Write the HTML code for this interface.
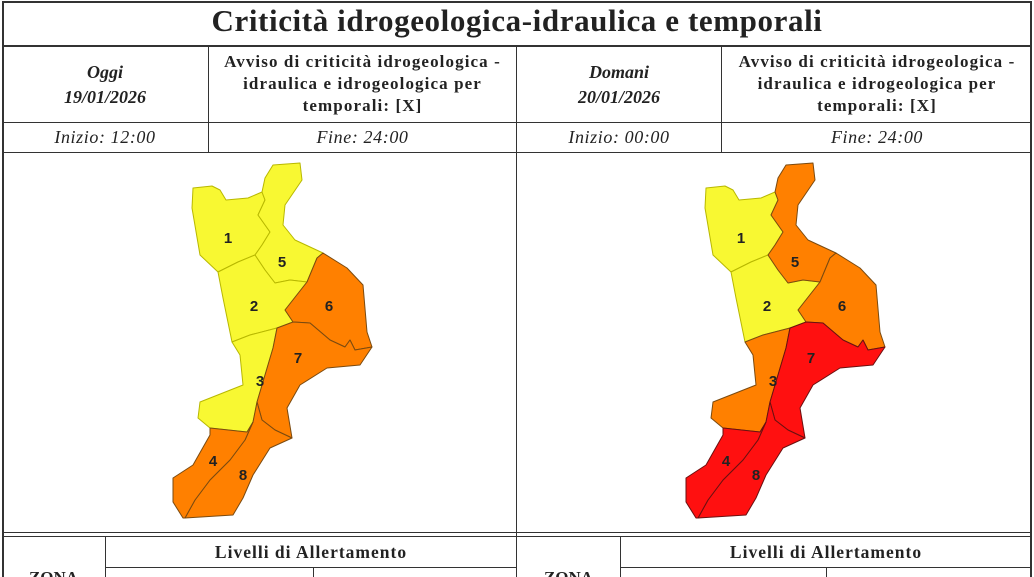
<!DOCTYPE html><html style="overflow:hidden;width:1034px;height:577px"><head><meta charset="utf-8"><style>
body{margin:0;width:1034px;height:577px;overflow:hidden;background:#fff;font-family:"Liberation Serif",serif;position:relative}
.t{position:absolute;text-align:center;color:#222}
</style></head><body>
<div style="position:absolute;left:2px;top:1px;width:1030px;height:600px;border:2px solid #333;border-bottom:none;box-sizing:border-box;max-height:576px"></div>
<div class="t" style="left:2px;top:3px;width:1030px;font-size:31px;font-weight:bold;letter-spacing:0.6px">Criticità idrogeologica-idraulica e temporali</div>
<div style="position:absolute;left:2px;top:45px;width:1030px;border-top:2px solid #333"></div>
<div style="position:absolute;left:2px;top:122px;width:1030px;border-top:1.5px solid #333"></div>
<div style="position:absolute;left:2px;top:152px;width:1030px;border-top:1.5px solid #333"></div>
<div style="position:absolute;left:208px;top:46px;height:107px;border-left:1.5px solid #333"></div>
<div style="position:absolute;left:516px;top:46px;height:490px;border-left:1.5px solid #333"></div>
<div style="position:absolute;left:721px;top:46px;height:107px;border-left:1.5px solid #333"></div>
<div class="t" style="left:2px;top:60px;width:206px;font-size:18px;font-style:italic;font-weight:bold;line-height:25px">Oggi<br>19/01/2026</div>
<div class="t" style="left:209px;top:51px;width:307px;font-size:17px;font-weight:bold;line-height:22px;letter-spacing:1.1px">Avviso di criticità idrogeologica -<br>idraulica e idrogeologica per<br>temporali: [X]</div>
<div class="t" style="left:517px;top:60px;width:204px;font-size:18px;font-style:italic;font-weight:bold;line-height:25px">Domani<br>20/01/2026</div>
<div class="t" style="left:722px;top:51px;width:310px;font-size:17px;font-weight:bold;line-height:22px;letter-spacing:1.1px">Avviso di criticità idrogeologica -<br>idraulica e idrogeologica per<br>temporali: [X]</div>
<div class="t" style="left:2px;top:127px;width:206px;font-size:18px;font-style:italic;letter-spacing:0.6px">Inizio: 12:00</div>
<div class="t" style="left:209px;top:127px;width:307px;font-size:18px;font-style:italic;letter-spacing:0.6px">Fine: 24:00</div>
<div class="t" style="left:517px;top:127px;width:204px;font-size:18px;font-style:italic;letter-spacing:0.6px">Inizio: 00:00</div>
<div class="t" style="left:722px;top:127px;width:310px;font-size:18px;font-style:italic;letter-spacing:0.6px">Fine: 24:00</div>
<div style="position:absolute;left:2px;top:532px;width:1030px;height:3px;border-top:1.5px solid #333;border-bottom:1.5px solid #333"></div>
<div style="position:absolute;left:516px;top:536px;height:45px;border-left:1.5px solid #333"></div>
<div style="position:absolute;left:105px;top:537px;height:40px;border-left:1.5px solid #333"></div>
<div style="position:absolute;left:620px;top:537px;height:40px;border-left:1.5px solid #333"></div>
<div style="position:absolute;left:105px;top:567px;width:412px;border-top:1.5px solid #333"></div>
<div style="position:absolute;left:620px;top:567px;width:412px;border-top:1.5px solid #333"></div>
<div style="position:absolute;left:313px;top:567px;height:12px;border-left:1.5px solid #333"></div>
<div style="position:absolute;left:826px;top:567px;height:12px;border-left:1.5px solid #333"></div>
<div class="t" style="left:106px;top:542px;width:410px;font-size:17.5px;font-weight:bold;letter-spacing:1px">Livelli di Allertamento</div>
<div class="t" style="left:621px;top:542px;width:410px;font-size:17.5px;font-weight:bold;letter-spacing:1px">Livelli di Allertamento</div>
<div class="t" style="left:2px;top:568px;width:103px;font-size:17px;font-weight:bold">ZONA</div>
<div class="t" style="left:517px;top:568px;width:103px;font-size:17px;font-weight:bold">ZONA</div>
<svg width="1034" height="577" style="position:absolute;left:0;top:0">
<defs>
<polygon id="r1" points="193,188 212,186 220,190 226,200 248,198 262,192 265,200 258,215 270,232 262,245 255,255 238,262 218,272 200,255 192,208"/>
<polygon id="r5" points="262,192 265,178 273,165 300,163 302,180 285,205 283,225 295,240 323,253 317,258 307,282 290,280 275,283 265,270 255,255 262,245 270,232 258,215 265,200"/>
<polygon id="r2" points="218,272 238,262 255,255 265,270 275,283 290,280 307,282 285,310 293,322 277,328 250,335 232,342 223,298"/>
<polygon id="r3" points="232,342 250,335 277,328 273,348 257,402 253,422 247,432 210,428 198,418 200,402 243,385 240,355"/>
<polygon id="r6" points="323,253 347,268 363,285 367,332 372,347 355,350 350,340 345,347 330,340 310,323 293,322 285,310 307,282 317,258"/>
<polygon id="r7" points="293,322 310,323 330,340 345,347 350,340 355,350 372,347 360,365 327,368 300,385 287,408 292,438 275,430 262,420 257,402 273,348 277,328"/>
<polygon id="r8" points="257,402 262,420 275,430 292,438 270,448 253,475 243,498 233,515 185,518 195,500 210,480 230,460 245,440 253,422"/>
<polygon id="r4" points="253,422 245,440 230,460 210,480 195,500 185,518 183,518 173,502 173,478 193,465 210,435 210,428 247,432"/>
</defs>
<g stroke-width="1" stroke-linejoin="round">
<use href="#r1" fill="#f8f832" stroke="#b8b800"/><use href="#r5" fill="#f8f832" stroke="#b8b800"/>
<use href="#r2" fill="#f8f832" stroke="#b8b800"/><use href="#r3" fill="#f8f832" stroke="#b8b800"/>
<use href="#r6" fill="#ff8000" stroke="#7a4a10"/><use href="#r7" fill="#ff8000" stroke="#7a4a10"/>
<use href="#r8" fill="#ff8000" stroke="#7a4a10"/><use href="#r4" fill="#ff8000" stroke="#7a4a10"/>
</g>
<g transform="translate(513,0)" stroke-width="1" stroke-linejoin="round">
<use href="#r1" fill="#f8f832" stroke="#b8b800"/><use href="#r2" fill="#f8f832" stroke="#b8b800"/>
<use href="#r5" fill="#ff8000" stroke="#7a4a10"/><use href="#r6" fill="#ff8000" stroke="#7a4a10"/>
<use href="#r3" fill="#ff8000" stroke="#7a4a10"/>
<use href="#r7" fill="#ff1010" stroke="#6a1010"/><use href="#r8" fill="#ff1010" stroke="#6a1010"/><use href="#r4" fill="#ff1010" stroke="#6a1010"/>
</g>
<g font-family="Liberation Sans, sans-serif" font-weight="bold" font-size="15" fill="#222" text-anchor="middle">
<text x="228" y="243">1</text><text x="282" y="267">5</text><text x="254" y="311">2</text><text x="329" y="311">6</text><text x="298" y="363">7</text><text x="260" y="386">3</text><text x="213" y="466">4</text><text x="243" y="480">8</text>
<g transform="translate(513,0)"><text x="228" y="243">1</text><text x="282" y="267">5</text><text x="254" y="311">2</text><text x="329" y="311">6</text><text x="298" y="363">7</text><text x="260" y="386">3</text><text x="213" y="466">4</text><text x="243" y="480">8</text></g>
</g>
</svg>
</body></html>
